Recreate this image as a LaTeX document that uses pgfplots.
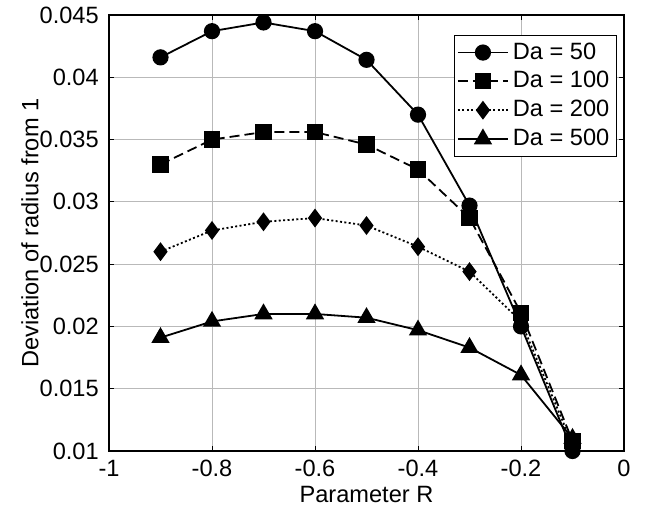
\documentclass[border=0pt]{standalone}
\usepackage{pgfplots}
\pgfplotsset{compat=1.18}
\usetikzlibrary{calc}
\usepackage{fontspec}
\setmainfont{Liberation Sans}
\begin{document}
\fontsize{11.8}{14}\selectfont
\begin{tikzpicture}
\begin{axis}[
  name=ax,
  scale only axis,
  width=257.5pt, height=218pt,
  xmin=-1, xmax=0, ymin=0.01, ymax=0.045,
  scaled y ticks=false, scaled x ticks=false,
  xtick={-1,-0.8,-0.6,-0.4,-0.2,0},
  xticklabels={-1,-0.8,-0.6,-0.4,-0.2,0},
  ytick={0.01,0.015,0.02,0.025,0.03,0.035,0.04,0.045},
  yticklabels={0.01,0.015,0.02,0.025,0.03,0.035,0.04,0.045},
  tick align=inside,
  major tick length=2.5pt,
  tick style={black, line width=0.4pt},
  axis line style={black, line width=0.6pt},
  grid=major,
  major grid style={gray!55, line width=0.5pt},
  xlabel={Parameter R},
  ylabel={Deviation of radius from 1},
  xlabel style={at={(axis description cs:0.5,0)}, anchor=center, yshift=-22pt},
  ylabel style={at={(axis description cs:0,0.5)}, anchor=center, yshift=39.5pt},
  xticklabel style={yshift=-0.5pt},
  yticklabel style={xshift=-1pt},
  legend style={at={(axis description cs:0.986,0.954)}, anchor=north east,
    draw=black, line width=0.5pt, fill=white, inner sep=1.5pt,
    row sep=0.4pt, font=\fontsize{11.8}{14}\selectfont,
    cells={anchor=west}},
  legend image code/.code={%
    \draw[mark repeat=2, mark phase=2, line width=0.9pt]
      plot coordinates {(0pt,0pt) (12.5pt,0pt) (25pt,0pt)};},
  every axis plot/.append style={black, line width=0.9pt, mark options={solid, fill=black}},
]
\addplot[solid, mark=*, mark size=3.6pt] coordinates {
(-0.9,0.0416) (-0.8,0.0437) (-0.7,0.0444) (-0.6,0.0437) (-0.5,0.0414)
(-0.4,0.0370) (-0.3,0.0297) (-0.2,0.0200) (-0.1,0.0100)};
\addlegendentry{Da = 50}
\addplot[dash pattern=on 5pt off 2.5pt, mark=square*, mark size=3.6pt] coordinates {
(-0.9,0.0330) (-0.8,0.0350) (-0.7,0.0356) (-0.6,0.0356) (-0.5,0.0346)
(-0.4,0.0326) (-0.3,0.0287) (-0.2,0.0211) (-0.1,0.0108)};
\addlegendentry{Da = 100}
\addplot[dash pattern=on 1pt off 1.2pt, mark=diamond*, mark size=4pt] coordinates {
(-0.9,0.0260) (-0.8,0.0277) (-0.7,0.0284) (-0.6,0.0287) (-0.5,0.0281)
(-0.4,0.0264) (-0.3,0.0244) (-0.2,0.0204) (-0.1,0.0105)};
\addlegendentry{Da = 200}
\addplot[solid, mark=triangle*, mark size=4.4pt] coordinates {
(-0.9,0.0191) (-0.8,0.0204) (-0.7,0.0210) (-0.6,0.0210) (-0.5,0.0207)
(-0.4,0.0197) (-0.3,0.0183) (-0.2,0.0161) (-0.1,0.0110)};
\addlegendentry{Da = 500}
\end{axis}
\pgfresetboundingbox
\path ($(ax.south west)+(-54.5pt,-32pt)$) rectangle ($(ax.north east)+(11pt,7.5pt)$);
\end{tikzpicture}
\end{document}
